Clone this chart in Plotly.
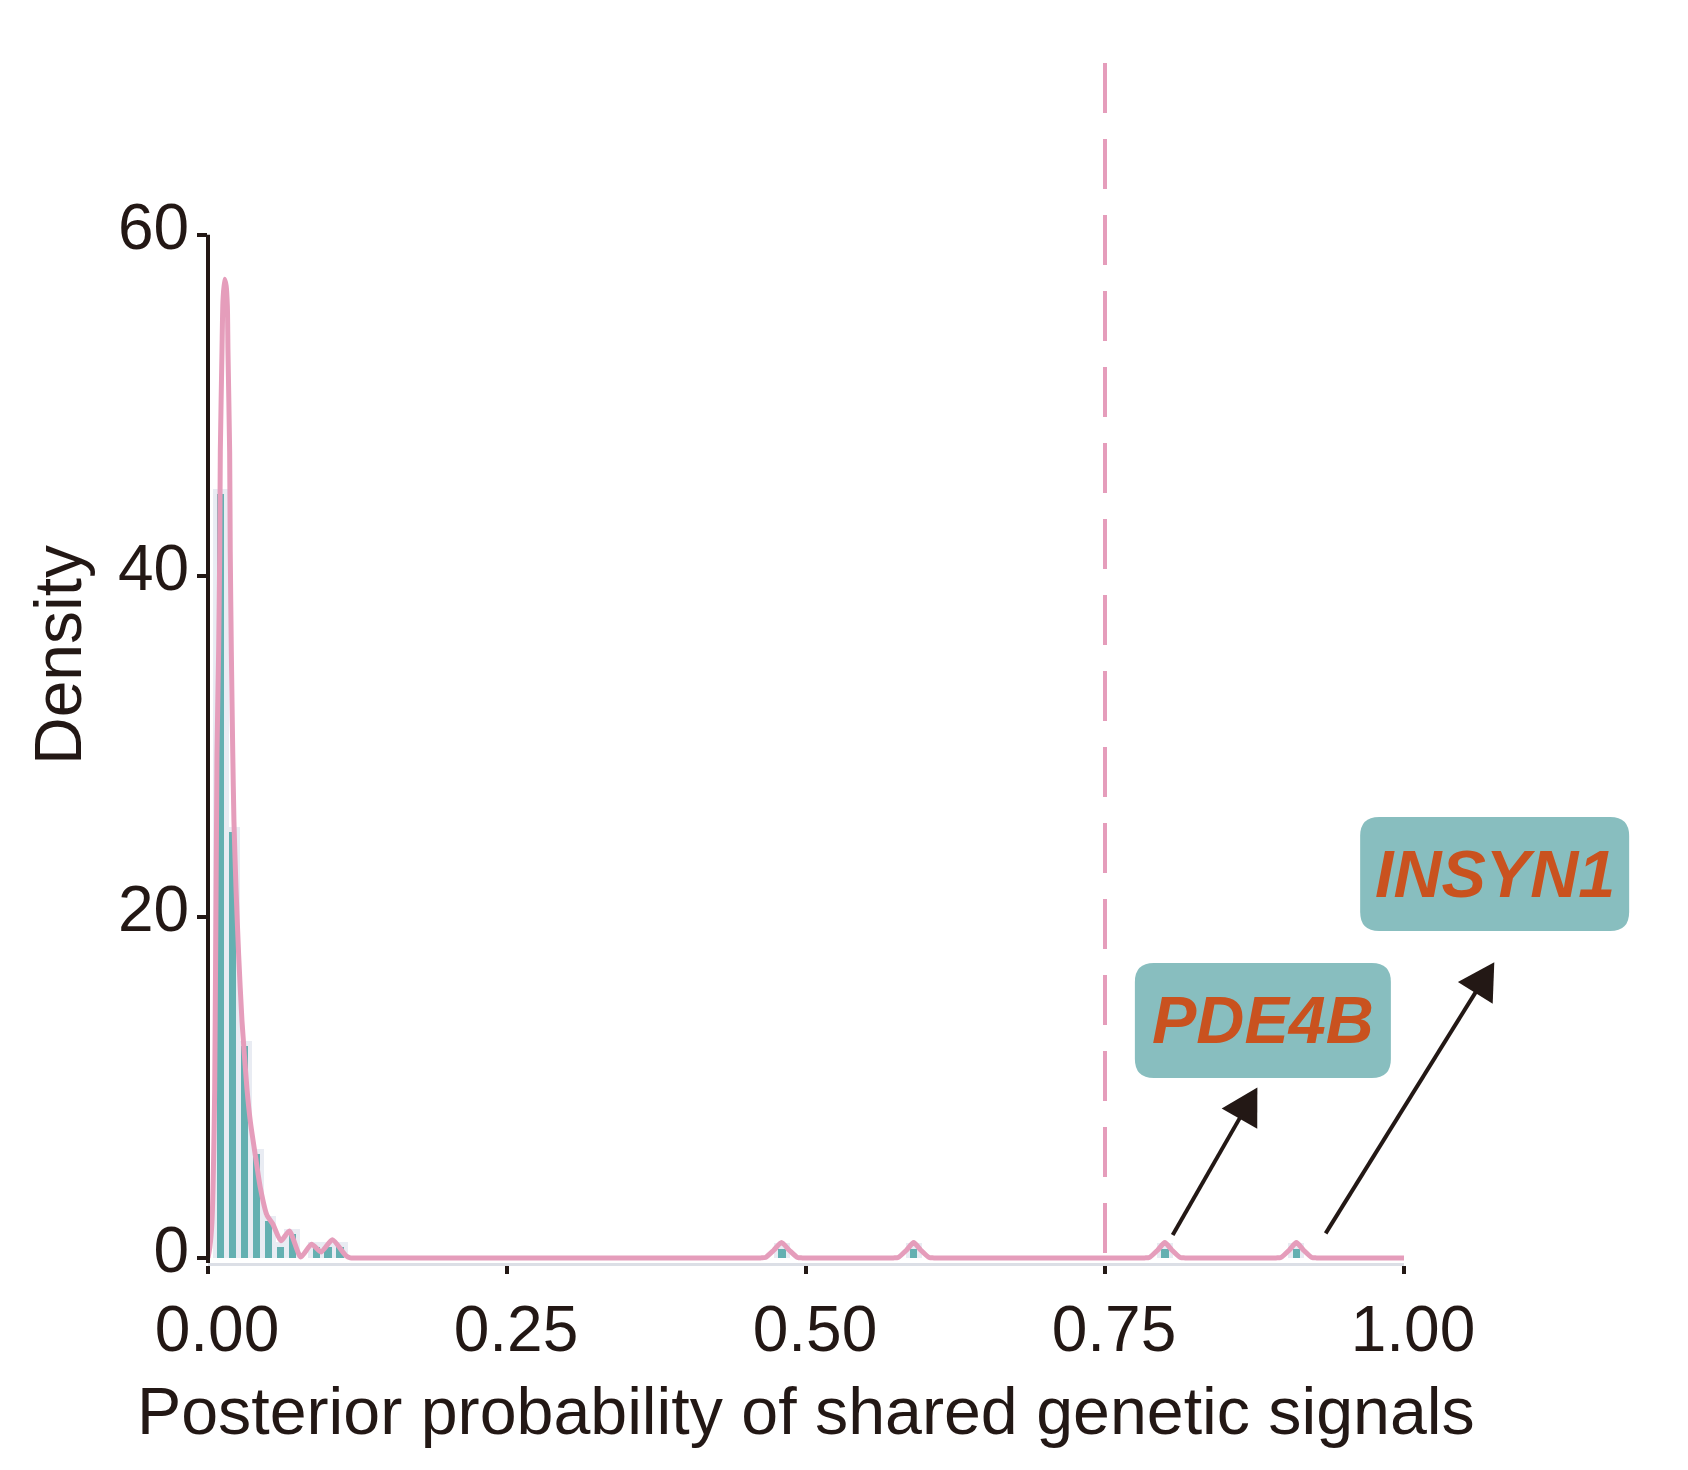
import plotly.graph_objects as go

# ---------------- data ----------------
bin_centers = [0.0105, 0.0205, 0.0305, 0.0405, 0.0505, 0.0605, 0.0705,
               0.0905, 0.1005, 0.1105, 0.48, 0.59, 0.80, 0.91]
bin_density = [44.8, 25.0, 12.4, 6.1, 2.17, 0.63, 1.39,
               0.63, 0.63, 0.63, 0.55, 0.55, 0.55, 0.55]

kde_x = [0.0, 0.0015, 0.0033, 0.0056, 0.0075, 0.0089, 0.0098, 0.0103, 0.0117,
         0.0125, 0.0139, 0.0152, 0.0162, 0.0167, 0.0181, 0.0186, 0.0195,
         0.0207, 0.0217, 0.0234, 0.0256, 0.0284, 0.0326, 0.0354, 0.0396,
         0.0438, 0.0493, 0.0541, 0.0610, 0.0680, 0.0776, 0.0866, 0.0945,
         0.1040, 0.1150, 0.1190, 0.1220, 0.2, 0.3, 0.4, 0.462, 0.466,
         0.473, 0.4795, 0.486, 0.493, 0.497, 0.55, 0.573, 0.577, 0.584,
         0.590, 0.596, 0.603, 0.607, 0.7, 0.783, 0.787, 0.794, 0.800, 0.806,
         0.813, 0.817, 0.86, 0.893, 0.897, 0.904, 0.910, 0.916, 0.923, 0.927,
         0.96, 1.0]
kde_y = [0.0, 0.6, 2.1, 9.9, 29.5, 35.6, 41.4, 47.3, 53.2,
         56.1, 57.4, 57.0, 55.8, 53.2, 47.3, 41.4, 35.6,
         29.6, 25.6, 21.7, 17.8, 13.9, 9.9, 8.0, 6.0,
         4.1, 2.5, 2.0, 1.0, 1.58, 0.05, 0.8, 0.35,
         1.06, 0.15, 0.0, 0.0, 0.0, 0.0, 0.0, 0.0, 0.02,
         0.45, 0.9, 0.45, 0.02, 0.0, 0.0, 0.0, 0.02, 0.45,
         0.9, 0.45, 0.02, 0.0, 0.0, 0.0, 0.02, 0.45, 0.9, 0.45,
         0.02, 0.0, 0.0, 0.0, 0.02, 0.45, 0.9, 0.45, 0.02, 0.0,
         0.0, 0.0]

threshold = 0.75
x_ticks = [0.0, 0.25, 0.5, 0.75, 1.0]
x_tick_text = ["0.00", "0.25", "0.50", "0.75", "1.00"]
y_ticks = [0, 20, 40, 60]
y_tick_text = ["0", "20", "40", "60"]

genes = ["PDE4B", "INSYN1"]
gene_pp = [0.80, 0.91]
# label placement (data units): box centre, arrow tail and arrow tip
label_cx = [0.882, 1.0758]
label_cy = [13.93, 22.52]
arrow_tail_x = [0.8066, 0.9345]
arrow_tail_y = [1.34, 1.44]
arrow_tip_x = [0.8774, 1.0755]
arrow_tip_y = [10.0, 17.34]

# ---------------- style / layout ----------------
W_FIG, H_FIG = 1688, 1470
L, R, T, B = 208, 284, 63, 207
W = W_FIG - L - R
H = H_FIG - T - B
XMIN, XMAX = 0.0, 1.0
YMIN, YMAX = -0.3, 70.08

TEAL = "#64B0B1"
LIGHT = "#E9ECF3"
PINK = "#E59DBB"
DARK = "#231815"
BOXC = "#88BEBF"
TXTC = "#C9521F"
FONT = "Liberation Sans, Arial, sans-serif"


def to_px(xd, yd):
    return (L + (xd - XMIN) / (XMAX - XMIN) * W,
            T + (YMAX - yd) / (YMAX - YMIN) * H)


def px_to_paper(px, py):
    return ((px - L) / W, (T + H - py) / H)


fig = go.Figure()

# light "halo" bars
fig.add_trace(go.Bar(x=bin_centers, y=[d + 0.3 for d in bin_density],
                     width=0.0133, marker=dict(color=LIGHT, line=dict(width=0)),
                     hoverinfo="skip", showlegend=False))
# teal histogram bars
fig.add_trace(go.Bar(x=bin_centers, y=bin_density, width=0.0062,
                     marker=dict(color=TEAL, line=dict(width=0)),
                     showlegend=False))
# density curve
fig.add_trace(go.Scatter(x=kde_x, y=kde_y, mode="lines",
                         line=dict(color=PINK, width=5, shape="spline", smoothing=0.6),
                         showlegend=False))

shapes = []
# threshold dashed line
shapes.append(dict(type="line", xref="x", yref="paper", x0=threshold, x1=threshold,
                   y0=1, y1=0, line=dict(color=PINK, width=4, dash="50px,26px")))
# y axis line from bottom to 60
_, p_top = px_to_paper(0, to_px(0, 60)[1])
shapes.append(dict(type="line", xref="paper", yref="paper", x0=0, x1=0,
                   y0=0, y1=p_top, line=dict(color=DARK, width=4)))

annotations = []
BOX_W = [256, 269]
BOX_H = [115, 114]
RAD = 19
for i, g in enumerate(genes):
    cxp, cyp = to_px(label_cx[i], label_cy[i])
    x0, x1 = cxp - BOX_W[i] / 2, cxp + BOX_W[i] / 2
    y0, y1 = cyp - BOX_H[i] / 2, cyp + BOX_H[i] / 2
    pts = [("M", (x0 + RAD, y0)), ("L", (x1 - RAD, y0)), ("Q", (x1, y0), (x1, y0 + RAD)),
           ("L", (x1, y1 - RAD)), ("Q", (x1, y1), (x1 - RAD, y1)),
           ("L", (x0 + RAD, y1)), ("Q", (x0, y1), (x0, y1 - RAD)),
           ("L", (x0, y0 + RAD)), ("Q", (x0, y0), (x0 + RAD, y0))]
    path = ""
    for seg in pts:
        cmd = seg[0]
        coords = " ".join("%.5f,%.5f" % px_to_paper(*c) for c in seg[1:])
        path += cmd + coords + " "
    path += "Z"
    shapes.append(dict(type="path", xref="paper", yref="paper", path=path,
                       fillcolor=BOXC, line=dict(width=0)))
    pcx, pcy = px_to_paper(cxp, cyp)
    annotations.append(dict(text="<b><i>%s</i></b>" % g, x=pcx, y=pcy,
                            xref="paper", yref="paper", showarrow=False,
                            xanchor="center", yanchor="middle",
                            font=dict(family=FONT, size=66.5, color=TXTC)))

    # arrow: shaft + filled head
    tx, ty = to_px(arrow_tail_x[i], arrow_tail_y[i])
    hx, hy = to_px(arrow_tip_x[i], arrow_tip_y[i])
    dx, dy = hx - tx, hy - ty
    ln = (dx * dx + dy * dy) ** 0.5
    ux, uy = dx / ln, dy / ln
    HL, HW = 36, 20.5
    bx, by = hx - ux * HL, hy - uy * HL
    nx, ny = -uy, ux
    a = px_to_paper(tx, ty)
    b = px_to_paper(bx + ux * 2, by + uy * 2)
    shapes.append(dict(type="line", xref="paper", yref="paper", x0=a[0], y0=a[1],
                       x1=b[0], y1=b[1], line=dict(color=DARK, width=4)))
    p1 = px_to_paper(hx, hy)
    p2 = px_to_paper(bx + nx * HW, by + ny * HW)
    p3 = px_to_paper(bx - nx * HW, by - ny * HW)
    shapes.append(dict(type="path", xref="paper", yref="paper",
                       path="M%.5f,%.5f L%.5f,%.5f L%.5f,%.5f Z" % (p1 + p2 + p3),
                       fillcolor=DARK, line=dict(width=0)))

# axis titles
ax_x = px_to_paper(L + W / 2, 1411)
annotations.append(dict(text="Posterior probability of shared genetic signals",
                        x=0.5, y=ax_x[1], xref="paper", yref="paper", showarrow=False,
                        xanchor="center", yanchor="middle",
                        font=dict(family=FONT, size=66.3, color=DARK)))
ay = px_to_paper(58, 655)
annotations.append(dict(text="Density", x=ay[0], y=ay[1], xref="paper", yref="paper",
                        showarrow=False, textangle=-90, xanchor="center", yanchor="middle",
                        font=dict(family=FONT, size=66, color=DARK)))

fig.update_layout(
    width=W_FIG, height=H_FIG,
    margin=dict(l=L, r=R, t=T, b=B, pad=0),
    paper_bgcolor="white", plot_bgcolor="white",
    barmode="overlay", bargap=0,
    shapes=shapes, annotations=annotations,
    font=dict(family=FONT, color=DARK),
    xaxis=dict(range=[XMIN, XMAX], tickvals=x_ticks, ticktext=x_tick_text,
               ticks="outside", ticklen=8, tickwidth=4, tickcolor=DARK,
               showline=True, linecolor="#DCDFE6", linewidth=3,
               showgrid=False, zeroline=False, ticklabelshift=9,
               tickfont=dict(family=FONT, size=64, color=DARK)),
    yaxis=dict(range=[YMIN, YMAX], tickvals=y_ticks, ticktext=y_tick_text,
               ticks="outside", ticklen=10, tickwidth=4, tickcolor=DARK,
               showline=False, showgrid=False, zeroline=False,
               ticklabelstandoff=-5, ticklabelshift=-8,
               tickfont=dict(family=FONT, size=64, color=DARK)),
)

fig.write_html("out.html")
